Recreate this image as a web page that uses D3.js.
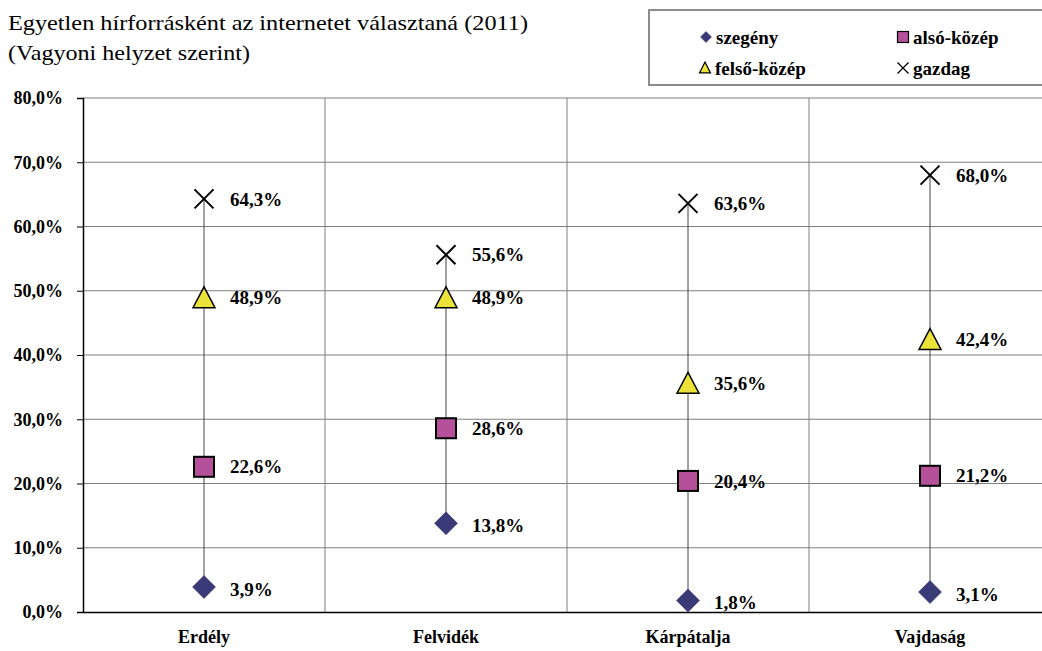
<!DOCTYPE html>
<html>
<head>
<meta charset="utf-8">
<script src="https://cdn.jsdelivr.net/npm/d3@7"></script>
<style>
  * { margin: 0; padding: 0; }
  body { background: #fff; }
  svg { display: block; font-family: "Liberation Serif", "DejaVu Serif", serif; }
</style>
</head>
<body>
<svg id="chart" width="1042" height="651"></svg>
<script>
var regions = ["Erdély", "Felvidék", "Kárpátalja", "Vajdaság"];
var seriesNames = ["szegény", "alsó-közép", "felső-közép", "gazdag"];
var szegeny = [3.9, 13.8, 1.8, 3.1];
var alsoKozep = [22.6, 28.6, 20.4, 21.2];
var felsoKozep = [48.9, 48.9, 35.6, 42.4];
var gazdag = [64.3, 55.6, 63.6, 68.0];
var yTicks = [0, 10, 20, 30, 40, 50, 60, 70, 80];

var series = [szegeny, alsoKozep, felsoKozep, gazdag];
var fmt = function (v) { return v.toFixed(1).replace(".", ",") + "%"; };

var svg = d3.select("#chart");
var plot = { left: 83, right: 1051, top: 98, bottom: 612 };

var x = d3.scaleBand().domain(regions).range([plot.left, plot.right]);
var y = d3.scaleLinear().domain([0, 80]).range([plot.bottom, plot.top]);

// horizontal grid
svg.append("g").selectAll("line")
    .data(yTicks.slice(1))
    .enter().append("line")
    .attr("x1", plot.left).attr("x2", plot.right)
    .attr("y1", function (d) { return y(d); })
    .attr("y2", function (d) { return y(d); })
    .attr("stroke", "#7f7f7f").attr("stroke-width", 1);

// vertical separators
svg.append("g").selectAll("line")
    .data(regions.slice(1))
    .enter().append("line")
    .attr("x1", function (d) { return x(d); })
    .attr("x2", function (d) { return x(d); })
    .attr("y1", plot.top).attr("y2", plot.bottom)
    .attr("stroke", "#7f7f7f").attr("stroke-width", 1);

// y axis
var yAxis = svg.append("g")
    .attr("transform", "translate(" + plot.left + ",0)")
    .call(d3.axisLeft(y).tickValues(yTicks).tickSize(6).tickFormat(fmt));
yAxis.select(".domain").attr("stroke", "#000").attr("stroke-width", 1.5);
yAxis.selectAll(".tick line").attr("stroke", "#000");
yAxis.selectAll("text")
    .attr("x", -20)
    .style("font-size", "18px").style("font-weight", "bold")
    .style("font-family", "'Liberation Serif', serif").attr("fill", "#000");

// x axis
var xAxis = svg.append("g")
    .attr("transform", "translate(0," + plot.bottom + ")")
    .call(d3.axisBottom(x).tickSize(0).tickPadding(18));
xAxis.select(".domain").attr("stroke", "#000").attr("stroke-width", 1.5);
xAxis.selectAll("text")
    .style("font-size", "18px").style("font-weight", "bold")
    .style("font-family", "'Liberation Serif', serif").attr("fill", "#000");

// high-low lines
svg.append("g").selectAll("line")
    .data(regions)
    .enter().append("line")
    .attr("x1", function (d) { return x(d) + x.bandwidth() / 2; })
    .attr("x2", function (d) { return x(d) + x.bandwidth() / 2; })
    .attr("y1", function (d, i) { return y(d3.min(series, function (s) { return s[i]; })); })
    .attr("y2", function (d, i) { return y(d3.max(series, function (s) { return s[i]; })); })
    .attr("stroke", "#444").attr("stroke-width", 1);

function drawMarker(g, k, size) {
    if (k === 0) {
        var r = size / 2;
        g.append("path").attr("d", "M0," + (-r) + "L" + r + ",0L0," + r + "L" + (-r) + ",0Z")
            .attr("fill", "#3b3a78").attr("stroke", "#2e2d66").attr("stroke-width", 0.5);
    } else if (k === 1) {
        g.append("rect").attr("x", -size / 2).attr("y", -size / 2).attr("width", size).attr("height", size)
            .attr("fill", "#b5519a").attr("stroke", "#000").attr("stroke-width", size > 12 ? 2 : 1.2);
    } else if (k === 2) {
        var h = size * 0.9;
        g.append("path").attr("d", "M0," + (-h / 2 - 1) + "L" + (size / 2) + "," + (h / 2) + "L" + (-size / 2) + "," + (h / 2) + "Z")
            .attr("fill", "#ebe23a").attr("stroke", "#000").attr("stroke-width", size > 12 ? 1.5 : 1.2);
    } else {
        var q = size / 2;
        g.append("path").attr("d", "M" + (-q) + "," + (-q) + "L" + q + "," + q + "M" + q + "," + (-q) + "L" + (-q) + "," + q)
            .attr("stroke", "#000").attr("stroke-width", size > 12 ? 2 : 1.3).attr("fill", "none");
    }
}

var sizes = [23, 20, 22, 19];
series.forEach(function (s, k) {
    var g = svg.append("g");
    s.forEach(function (v, i) {
        var cx = x(regions[i]) + x.bandwidth() / 2;
        var m = g.append("g").attr("transform", "translate(" + cx + "," + y(v) + ")");
        drawMarker(m, k, sizes[k]);
        g.append("text")
            .attr("x", cx + 26).attr("y", y(v) + (k === 0 ? 2 : 0))
            .attr("dy", "0.35em")
            .style("font-size", "19px").style("font-weight", "bold")
            .text(fmt(v));
    });
});

// title
svg.append("text").attr("x", 8).attr("y", 30)
    .style("font-size", "22px")
    .attr("textLength", 520).attr("lengthAdjust", "spacingAndGlyphs")
    .text("Egyetlen hírforrásként az internetet választaná (2011)");
svg.append("text").attr("x", 8).attr("y", 60)
    .style("font-size", "22px")
    .attr("textLength", 242).attr("lengthAdjust", "spacingAndGlyphs")
    .text("(Vagyoni helyzet szerint)");

// legend
svg.append("rect").attr("x", 649).attr("y", 10).attr("width", 400).attr("height", 75)
    .attr("fill", "#fff").attr("stroke", "#8c8c8c").attr("stroke-width", 2);
var legendPos = [[706, 37], [903, 37], [705, 68], [903, 68]];
seriesNames.forEach(function (name, k) {
    var p = legendPos[k];
    var m = svg.append("g").attr("transform", "translate(" + p[0] + "," + p[1] + ")");
    drawMarker(m, k, 11);
    svg.append("text").attr("x", p[0] + 10).attr("y", p[1]).attr("dy", "0.35em")
        .style("font-size", "19px").style("font-weight", "bold")
        .text(name);
});
</script>
</body>
</html>
